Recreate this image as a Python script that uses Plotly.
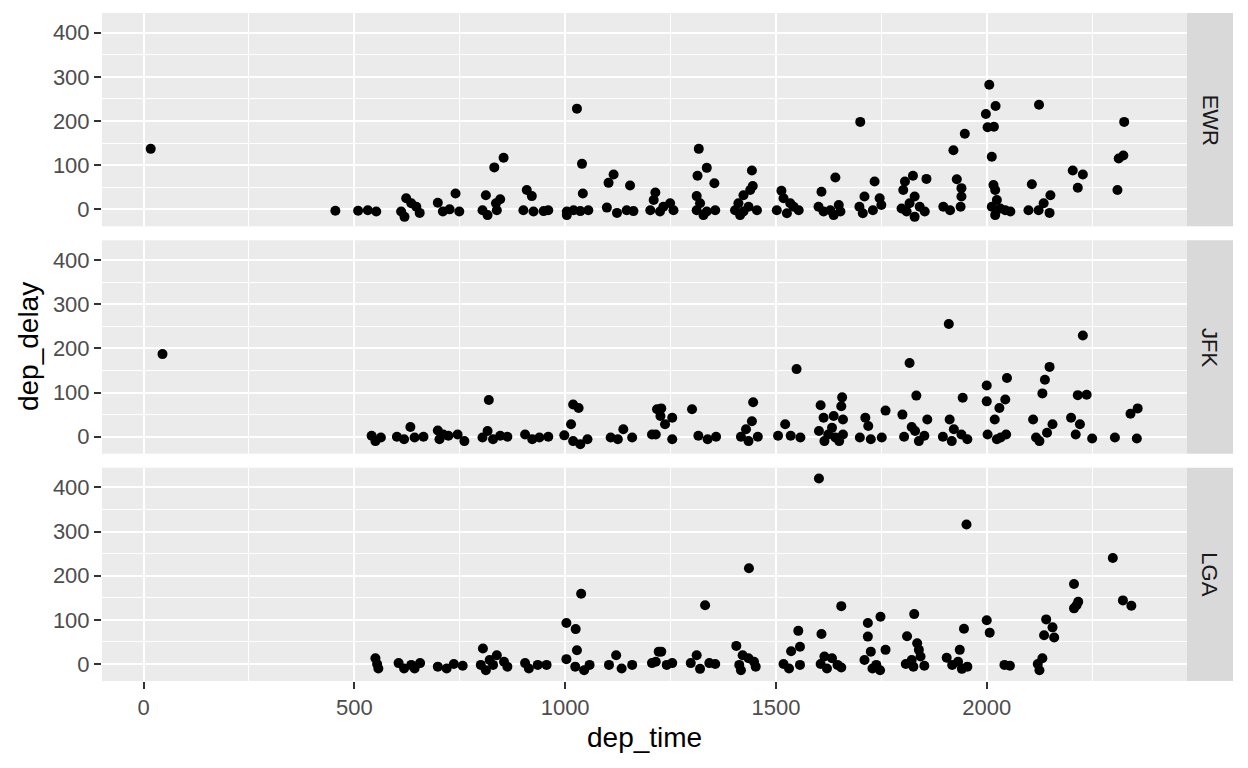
import plotly.graph_objects as go
from plotly.subplots import make_subplots

# dep_time / dep_delay, one pair of lists per origin
ewr_time = [17, 455, 509, 532, 552, 623, 611, 619, 647, 655, 635, 698, 710, 740, 749, 726,
            832, 812, 804, 816, 836, 854, 846, 838, 909, 921, 901, 925, 949, 960,
            1028, 1040, 1042, 1004, 1020, 1036, 1055, 1004, 1115, 1103, 1154, 1099, 1123, 1146, 1162,
            1214, 1210, 1202, 1225, 1249, 1257, 1233,
            1317, 1336, 1314, 1354, 1312, 1320, 1312, 1336, 1356, 1328,
            1443, 1445, 1439, 1423, 1411, 1403, 1423, 1455, 1435, 1415,
            1513, 1518, 1502, 1534, 1526, 1554, 1542,
            1641, 1608, 1601, 1613, 1629, 1649, 1653, 1637,
            1700, 1734, 1710, 1698, 1706, 1730, 1750, 1746,
            1825, 1857, 1806, 1802, 1829, 1798, 1817, 1841, 1829, 1853, 1810,
            1921, 1948, 1929, 1940, 1940, 1938, 1897, 1913,
            2006, 2021, 1998, 2002, 2017, 2012, 2016, 2020, 2024, 2012, 2032, 2056, 2020, 2044,
            2124, 2107, 2099, 2123, 2135, 2151, 2149,
            2204, 2228, 2216, 2326, 2324, 2313, 2310]
ewr_delay = [137, -3, -3, -2, -5, 25, -5, -17, 6, -8, 14, 15, -5, 36, -5, 0,
             95, 32, -2, -13, 14, 117, 23, -2, 44, 30, -2, -5, -4, -2,
             228, 103, 36, -5, -2, -4, -2, -13, 79, 60, 54, 4, -8, -2, -4,
             38, 21, -2, -5, 14, -2, 6,
             137, 94, 76, 59, 30, 14, -2, -5, -2, -13,
             88, 53, 44, 32, 14, -2, -5, -2, 6, -13,
             42, 25, -2, 14, -9, -2, 6,
             72, 40, 6, -5, -2, 10, -5, -13,
             198, 63, 29, 6, -9, -2, 10, 25,
             76, 69, 63, 44, 29, 2, 14, 6, -17, -5, -5,
             134, 171, 68, 48, 29, 6, 6, -2,
             282, 234, 216, 186, 187, 119, 55, 44, 21, 6, 2, -5, -13, -2,
             237, 57, -2, -2, 14, 32, -8,
             88, 79, 49, 198, 122, 115, 44]

jfk_time = [45, 541, 550, 563, 601, 633, 618, 643, 664, 698, 702, 723, 745, 761, 711,
            819, 816, 804, 829, 846, 863, 905, 922, 939, 960,
            1019, 1032, 1014, 998, 1019, 1036, 1053, 1138, 1108, 1125, 1159, 1218, 1206,
            1228, 1254, 1237, 1215, 1254, 1226, 1301, 1316, 1338, 1358,
            1446, 1443, 1429, 1417, 1435, 1457, 1549, 1505, 1522, 1535, 1558,
            1606, 1657, 1655, 1613, 1637, 1659, 1602, 1624, 1641, 1659, 1615, 1633, 1650,
            1712, 1719, 1699, 1725, 1751, 1760,
            1817, 1833, 1800, 1822, 1804, 1839, 1859, 1852, 1830,
            1910, 1943, 1912, 1896, 1922, 1940, 1954, 1917,
            2000, 2048, 2000, 2044, 2030, 2019, 2002, 2024, 2046, 2033,
            2149, 2138, 2132, 2110, 2156, 2143, 2117, 2125,
            2228, 2216, 2237, 2200, 2221, 2211, 2250, 2304, 2358, 2341, 2356]
jfk_delay = [187, 2, -10, -2, 0, 22, -6, -2, 0, 14, -6, 2, 5, -10, 5,
             83, 13, -2, -6, 2, 0, 5, -6, -2, 0,
             73, 65, 28, 3, -10, -17, -6, 17, -2, -6, -2, 62, 5,
             64, 43, 28, 5, -6, 47, 62, 2, -6, 0,
             78, 35, 17, 0, -10, 0, 153, 2, 28, 2, -2,
             71, 89, 69, 43, 47, 39, 13, 5, -2, 5, -10, 20, -10,
             43, 24, -2, -6, -2, 59,
             167, 93, 50, 22, 0, -10, 39, 2, 13,
             255, 88, 39, 0, 17, 5, -6, -10,
             116, 133, 80, 84, 65, 39, 5, -6, 5, -2,
             158, 129, 98, 39, 28, 9, -2, -10,
             229, 94, 95, 43, 28, 5, -4, -2, 64, 52, -4]

lga_time = [554, 550, 557, 605, 618, 635, 656, 643, 698, 719, 736, 757,
            805, 800, 812, 838, 829, 855, 863, 821, 905, 914, 935, 956,
            1003, 1025, 1038, 1028, 1003, 1024, 1045, 1058, 1121, 1104, 1134, 1159, 1222, 1206,
            1228, 1215, 1241, 1254, 1332, 1312, 1298, 1320, 1342, 1356,
            1436, 1406, 1421, 1413, 1417, 1448, 1452, 1435,
            1553, 1557, 1536, 1518, 1531, 1557,
            1602, 1608, 1655, 1615, 1606, 1633, 1646, 1655, 1621,
            1748, 1718, 1718, 1710, 1725, 1738, 1760, 1747, 1729,
            1828, 1811, 1835, 1839, 1843, 1808, 1826, 1852, 1822,
            1952, 1946, 1936, 1905, 1918, 1932, 1954, 1941, 2000, 2007, 2042, 2055,
            2132, 2121, 2125, 2141, 2156, 2136, 2160, 2207, 2217, 2207, 2213,
            2299, 2323, 2343]
lga_delay = [0, 13, -10, 2, -10, -2, 2, -10, -6, -10, 0, -4,
             35, -2, -14, 20, -2, 5, -6, 9, 2, -10, -2, -2,
             93, 79, 159, 31, 11, -6, -14, -2, 20, -2, -10, -2, 28, 2,
             28, 5, -2, 2, 133, 20, 2, -11, 2, 0,
             217, 41, 20, -2, -14, 5, -6, 13,
             75, 39, 29, 0, -10, -2,
             420, 68, 131, 17, 0, 13, -2, -8, -10,
             107, 93, 62, 9, 28, -2, 32, -14, -10,
             113, 63, 47, 32, 17, 0, -6, -4, 9,
             316, 80, 32, 14, -2, 5, -6, -11, 99, 71, -2, -4,
             13, 0, -14, 101, 83, 65, 60, 181, 141, 126, 133,
             240, 144, 132]

origins = ["EWR", "JFK", "LGA"]
times = [ewr_time, jfk_time, lga_time]
delays = [ewr_delay, jfk_delay, lga_delay]

x_ticks = [0, 500, 1000, 1500, 2000]
y_ticks = [0, 100, 200, 300, 400]

fig = make_subplots(rows=3, cols=1, shared_xaxes=True)

for i in range(3):
    fig.add_trace(go.Scatter(x=times[i], y=delays[i], mode="markers",
                             marker=dict(color="black", size=10),
                             showlegend=False, name=origins[i]),
                  row=i + 1, col=1)

# panel geometry (paper fractions); the page body adds 8px on the left/top
x_end = 1085 / 1131
domains = [[0.6806, 1.0], [0.3403, 0.6597], [0.0, 0.3194]]

font_name = "Liberation Sans, Arial"
axis_font = dict(family=font_name, size=22, color="#4D4D4D")
for i in range(3):
    n = "" if i == 0 else str(i + 1)
    fig.layout["xaxis" + n].update(
        domain=[0, x_end], range=[-98.5, 2475], tickvals=x_ticks,
        showticklabels=(i == 2), ticks="outside" if i == 2 else "",
        ticklen=7, tickwidth=1.8, tickcolor="#333333", tickfont=axis_font,
        showgrid=True, gridcolor="white", gridwidth=1.6, zeroline=False,
        minor=dict(dtick=250, tick0=250, showgrid=True, gridcolor="white", gridwidth=0.8),
        showline=False)
    fig.layout["yaxis" + n].update(
        domain=domains[i], range=[-38.5, 444.6], tickvals=y_ticks,
        ticks="outside", ticklen=7, tickwidth=1.8, tickcolor="#333333", tickfont=axis_font,
        showgrid=True, gridcolor="white", gridwidth=1.6, zeroline=False,
        minor=dict(dtick=100, tick0=50, showgrid=True, gridcolor="white", gridwidth=0.8),
        showline=False)
    # grey facet strip on the right
    fig.add_shape(type="rect", xref="paper", yref="paper", x0=x_end, x1=1.0,
                  y0=domains[i][0], y1=domains[i][1], fillcolor="#D9D9D9", line_width=0,
                  layer="below")
    fig.add_annotation(xref="paper", yref="paper", x=(x_end + 1) / 2,
                       y=(domains[i][0] + domains[i][1]) / 2, text=origins[i],
                       xanchor="center", yanchor="middle",
                       textangle=90, showarrow=False,
                       font=dict(family=font_name, size=22, color="#1A1A1A"))

fig.add_annotation(xref="paper", yref="paper", x=x_end / 2, y=-0.084,
                   xanchor="center", yanchor="middle",
                   text="dep_time", showarrow=False,
                   font=dict(family=font_name, size=28, color="black"))
fig.add_annotation(xref="paper", yref="paper", x=-0.0654, y=0.5,
                   xanchor="center", yanchor="middle",
                   text="dep_delay", textangle=-90, showarrow=False,
                   font=dict(family=font_name, size=28, color="black"))

fig.update_layout(width=1232, height=752, plot_bgcolor="#EBEBEB", paper_bgcolor="white",
                  margin=dict(l=94, r=7, t=5, b=79))

fig.write_html("out.html")
